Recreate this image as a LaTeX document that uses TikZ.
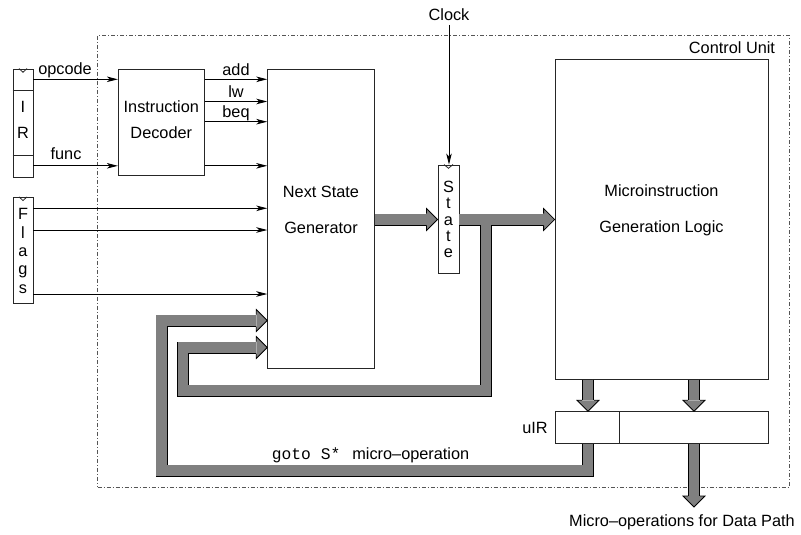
\documentclass[tikz,border=0pt]{standalone}
\usepackage{fontspec}
\setmainfont{Liberation Sans}
\setsansfont{Liberation Sans}
\setmonofont{Liberation Mono}
\usetikzlibrary{arrows.meta,calc}
\definecolor{fatgray}{RGB}{128,128,128}
\definecolor{framegray}{RGB}{85,85,85}

% arrow heads of the wide data-path arrows (tip given)
\newcommand\fatheadE[1]{\filldraw[fathead] (#1) ++(-11,-6) -- ++(0,-5) -- ++(11,11) -- ++(-11,11) -- ++(0,-5);}
\newcommand\fatheadS[1]{\filldraw[fathead] (#1) ++(-6,-11) -- ++(-5,0) -- ++(11,11) -- ++(11,-11) -- ++(-5,0);}

\begin{document}
\begin{tikzpicture}[x=1pt,y=-1pt,
  every node/.style={font=\fontsize{16.3}{19}\selectfont, inner sep=0pt},
  box/.style={draw=black!85, line width=0.9pt, fill=white},
  sig/.style={draw=black, line width=0.9pt, -{Stealth[length=11pt,width=5.5pt,inset=3pt]}},
  tick/.style={draw=black!85, line width=0.8pt},
  fatout/.style={draw=black, line width=12pt, line join=miter},
  fatin/.style={draw=fatgray, line width=10.4pt, line join=miter},
  fathead/.style={fill=fatgray, draw=black, line width=0.8pt, line join=miter},
  cuframe/.style={draw=framegray, line width=0.8pt, dash pattern=on 4pt off 2pt on 1pt off 2pt}]

\useasboundingbox (0,0) rectangle (801,535);

% control unit frame
\node[cuframe, minimum width=691.6, minimum height=452] (cu) at (443.5,261) {};
\node (culabel) at (732,48) {Control Unit};

% rows and columns used by the connectors
\coordinate (r79) at (0,79.3);
\coordinate (r102) at (0,101.5);
\coordinate (r122) at (0,121.7);
\coordinate (r166) at (0,165.8);
\coordinate (r208) at (0,208.3);
\coordinate (r230) at (0,230);
\coordinate (r294) at (0,294);
\coordinate (rS) at (0,219.5);
\coordinate (rA) at (0,347.5);
\coordinate (rB) at (0,320.5);
\coordinate (rIn) at (0,390.5);
\coordinate (rOut) at (0,470.5);
\coordinate (cT) at (486,0);
\coordinate (cIn) at (183,0);
\coordinate (cOut) at (161.5,0);
\coordinate (cL) at (588,0);
\coordinate (cR) at (694,0);
\coordinate (clk) at (449,25);
\coordinate (dp) at (694,507);

% registers and blocks
\node[box, minimum width=20, minimum height=108] (ir) at (23,123) {};
\node[box, minimum width=20, minimum height=106] (flags) at (23,250.3) {};
\node[box, minimum width=85.7, minimum height=105.7] (dec) at (161.2,122.2) {};
\node[box, minimum width=106.6, minimum height=298.7] (nsg) at (321,218.7) {};
\node[box, minimum width=21, minimum height=108] (st) at (448.5,219) {};
\node[box, minimum width=213.3, minimum height=319.7] (mi) at (661.7,219.2) {};
\node[box, minimum width=213.3, minimum height=31.6] (uir) at (661.7,427.5) {};

% register details
\coordinate (d1) at (0,90.7);
\coordinate (d2) at (0,155);
\draw[tick] (ir.west |- d1) -- (ir.east |- d1);
\draw[tick] (ir.west |- d2) -- (ir.east |- d2);
\coordinate (du) at (619.3,0);
\draw[tick] (du |- uir.north) -- (du |- uir.south);
\draw[tick] ($(ir.north)+(-4,0)$) -- ++(4,3.7) -- ++(4,-3.7);
\draw[tick] ($(flags.north)+(-4,0)$) -- ++(4,3.7) -- ++(4,-3.7);
\draw[tick] ($(st.north)+(-4.5,0)$) -- ++(4.5,3.7) -- ++(4.5,-3.7);

% texts in the blocks
\node (irI) at (23,107) {I};
\node (irR) at (23,133) {R};
\node[align=center, font=\fontsize{16.3}{18.3}\selectfont] (flagtxt) at (23,251) {F\\l\\a\\g\\s};
\node[align=center, font=\fontsize{16.3}{16.3}\selectfont] (sttxt) at (448.5,219.5) {S\\t\\a\\t\\e};
\node[align=center, font=\fontsize{16.3}{26}\selectfont] (dectxt) at (161.3,119.5) {Instruction\\Decoder};
\node[align=center, font=\fontsize{16.3}{36}\selectfont] (nsgtxt) at (321,210) {Next State\\Generator};
\node[align=center, font=\fontsize{16.3}{36}\selectfont] (mitxt) at (661.5,210) {Microinstruction\\Generation Logic};
\node (uirtxt) at (535,428.3) {uIR};

% control signals
\draw[sig] (ir.east |- r79) -- (dec.west |- r79);
\draw[sig] (ir.east |- r166) -- (dec.west |- r166);
\node (opc) at (65,70) {opcode};
\node (fnc) at (66,154) {func};
\draw[sig] (dec.east |- r79) -- (nsg.west |- r79);
\draw[sig] (dec.east |- r102) -- (nsg.west |- r102);
\draw[sig] (dec.east |- r122) -- (nsg.west |- r122);
\draw[sig] (dec.east |- r166) -- (nsg.west |- r166);
\node (addl) at (236,70) {add};
\node (lwl) at (236,92) {lw};
\node (beql) at (236,113) {beq};
\draw[sig] (flags.east |- r208) -- (nsg.west |- r208);
\draw[sig] (flags.east |- r230) -- (nsg.west |- r230);
\draw[sig] (flags.east |- r294) -- (nsg.west |- r294);

% clock
\node (clock) at (449,15) {Clock};
\draw[sig] (clk) -- (clk |- st.north);

% wide arrows: outlines first, then the grey bodies
\draw[fatout] (nsg.east |- rS) -- ($(st.west |- rS)+(-11,0)$);
\draw[fatout] (st.east |- rS) -- ($(mi.west |- rS)+(-11,0)$);
\draw[fatout] (cT |- rS) -- (cT |- rIn) -- (cIn |- rIn) -- (cIn |- rA) -- ($(nsg.west |- rA)+(-11,0)$);
\draw[fatout] (cL |- uir.south) -- (cL |- rOut) -- (cOut |- rOut) -- (cOut |- rB) -- ($(nsg.west |- rB)+(-11,0)$);
\draw[fatout] (cL |- mi.south) -- ($(cL |- uir.north)+(0,-11)$);
\draw[fatout] (cR |- mi.south) -- ($(cR |- uir.north)+(0,-11)$);
\draw[fatout] (cR |- uir.south) -- ($(dp)+(0,-11)$);

\draw[fatin] (nsg.east |- rS) -- ($(st.west |- rS)+(-11,0)$);
\draw[fatin] (st.east |- rS) -- ($(mi.west |- rS)+(-11,0)$);
\draw[fatin] (cT |- rS) -- (cT |- rIn) -- (cIn |- rIn) -- (cIn |- rA) -- ($(nsg.west |- rA)+(-11,0)$);
\draw[fatin] (cL |- uir.south) -- (cL |- rOut) -- (cOut |- rOut) -- (cOut |- rB) -- ($(nsg.west |- rB)+(-11,0)$);
\draw[fatin] (cL |- mi.south) -- ($(cL |- uir.north)+(0,-11)$);
\draw[fatin] (cR |- mi.south) -- ($(cR |- uir.north)+(0,-11)$);
\draw[fatin] (cR |- uir.south) -- ($(dp)+(0,-11)$);

\fatheadE{st.west |- rS}
\fatheadE{mi.west |- rS}
\fatheadE{nsg.west |- rA}
\fatheadE{nsg.west |- rB}
\fatheadS{cL |- uir.north}
\fatheadS{cR |- uir.north}
\fatheadS{dp}

% labels on the wide arrows
\node[anchor=west] (gotolbl) at (271.7,455) {{\ttfamily goto S*}\hspace{12pt}micro–operation};
\node (dplbl) at (682,522) {Micro–operations for Data Path};
\end{tikzpicture}
\end{document}
